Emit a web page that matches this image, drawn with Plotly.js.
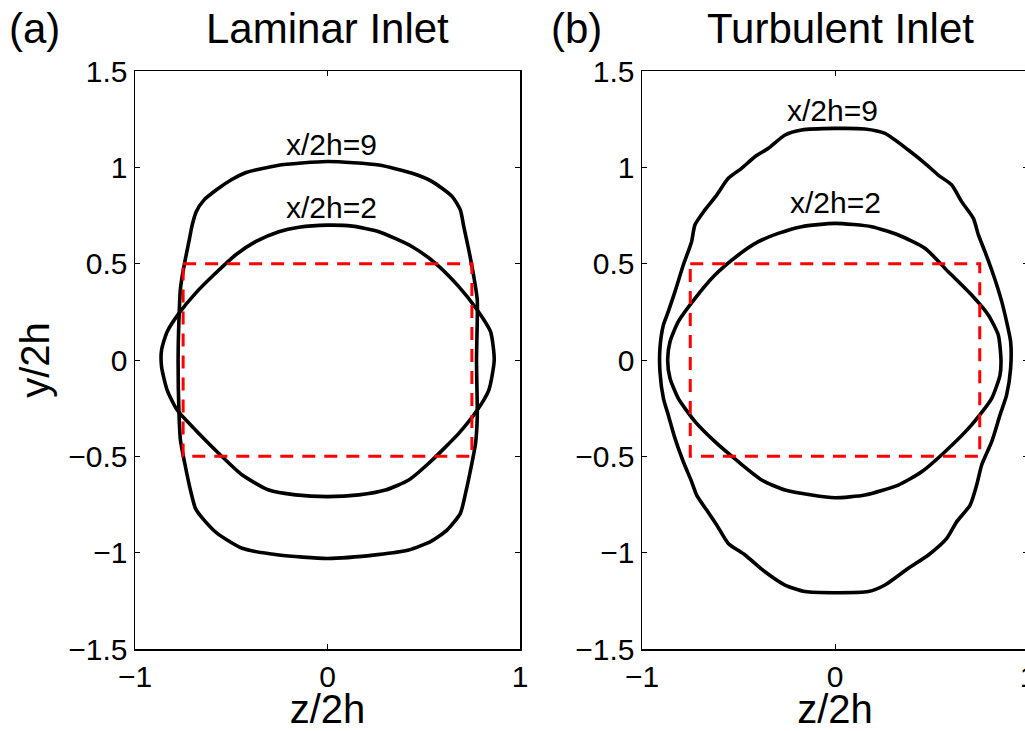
<!DOCTYPE html>
<html>
<head>
<meta charset="utf-8">
<script src="https://cdn.plot.ly/plotly-3.0.1.min.js"></script>
<style>
html, body { margin: 0; padding: 0; overflow: hidden; background: #fff; }
#chart { width: 1040px; height: 731px; }
</style>
</head>
<body>
<div id="chart"></div>
<script>
// ---- Data ----
// Laminar inlet, x/2h = 2
const lam2Z = [0, -0.149, -0.253, -0.374, -0.478, -0.582, -0.686, -0.772, -0.833, -0.862, -0.862, -0.833, -0.781, -0.686, -0.547, -0.443, -0.305, -0.166, 0, 0.163, 0.301, 0.422, 0.526, 0.682, 0.778, 0.838, 0.866, 0.847, 0.778, 0.682, 0.561, 0.44, 0.267, 0.128, 0];
const lam2Y = [0.70, 0.689, 0.666, 0.614, 0.545, 0.45, 0.346, 0.242, 0.147, 0.052, -0.035, -0.156, -0.26, -0.363, -0.502, -0.597, -0.675, -0.70, -0.709, -0.70, -0.675, -0.623, -0.536, -0.381, -0.26, -0.156, 0, 0.147, 0.26, 0.381, 0.502, 0.588, 0.666, 0.695, 0.70];
// Laminar inlet, x/2h = 9
const lam9Z = [0, -0.26, -0.374, -0.426, -0.495, -0.573, -0.642, -0.682, -0.703, -0.72, -0.745, -0.764, -0.772, -0.776, -0.772, -0.764, -0.738, -0.712, -0.686, -0.642, -0.573, -0.443, -0.253, 0, 0.26, 0.422, 0.54, 0.622, 0.69, 0.717, 0.743, 0.769, 0.778, 0.774, 0.778, 0.76, 0.734, 0.708, 0.69, 0.648, 0.544, 0.44, 0.267, 0];
const lam9Y = [1.03, 1.01, 0.986, 0.972, 0.938, 0.886, 0.83, 0.77, 0.70, 0.614, 0.49, 0.37, 0.2, 0, -0.26, -0.415, -0.554, -0.675, -0.77, -0.83, -0.90, -0.977, -1.012, -1.03, -1.01, -0.986, -0.94, -0.882, -0.796, -0.692, -0.571, -0.433, -0.294, 0, 0.311, 0.433, 0.571, 0.692, 0.779, 0.848, 0.926, 0.969, 1.012, 1.03];
// Turbulent inlet, x/2h = 2
const tur2Z = [0, -0.173, -0.294, -0.397, -0.501, -0.622, -0.725, -0.812, -0.855, -0.867, -0.855, -0.812, -0.725, -0.622, -0.501, -0.38, -0.259, -0.121, 0, 0.155, 0.328, 0.449, 0.57, 0.708, 0.812, 0.855, 0.86, 0.846, 0.794, 0.708, 0.587, 0.466, 0.328, 0.19, 0];
const tur2Y = [0.709, 0.692, 0.657, 0.614, 0.545, 0.441, 0.32, 0.199, 0.095, 0, -0.095, -0.199, -0.32, -0.424, -0.528, -0.623, -0.675, -0.701, -0.715, -0.701, -0.649, -0.58, -0.476, -0.337, -0.199, -0.078, 0, 0.13, 0.234, 0.337, 0.458, 0.58, 0.649, 0.692, 0.709];
// Turbulent inlet, x/2h = 9
const tur9Z = [0, -0.173, -0.259, -0.345, -0.415, -0.484, -0.553, -0.613, -0.674, -0.726, -0.743, -0.786, -0.829, -0.864, -0.889, -0.907, -0.907, -0.889, -0.864, -0.829, -0.786, -0.743, -0.717, -0.665, -0.613, -0.553, -0.466, -0.363, -0.259, -0.155, 0, 0.173, 0.259, 0.38, 0.484, 0.579, 0.631, 0.70, 0.734, 0.76, 0.812, 0.855, 0.889, 0.91, 0.91, 0.889, 0.864, 0.821, 0.777, 0.743, 0.717, 0.656, 0.605, 0.535, 0.466, 0.38, 0.259, 0.155, 0];
const tur9Y = [1.202, 1.194, 1.168, 1.099, 1.055, 0.995, 0.943, 0.856, 0.779, 0.701, 0.614, 0.493, 0.355, 0.251, 0.182, 0.061, -0.061, -0.199, -0.285, -0.407, -0.528, -0.631, -0.701, -0.779, -0.856, -0.952, -1.012, -1.099, -1.168, -1.202, -1.208, -1.202, -1.168, -1.081, -1.012, -0.926, -0.839, -0.753, -0.649, -0.545, -0.424, -0.285, -0.182, -0.043, 0.095, 0.199, 0.303, 0.441, 0.562, 0.649, 0.735, 0.822, 0.908, 0.96, 1.021, 1.09, 1.176, 1.199, 1.202];
// Duct cross-section (dashed rectangle)
const rectZ = [-0.75, 0.75, 0.75, -0.75, -0.75];
const rectY = [0.5, 0.5, -0.5, -0.5, 0.5];
// Ticks
const xTickVals = [-1, 0, 1];
const xTickText = ['\u22121', '0', '1'];
const yTickVals = [-1.5, -1, -0.5, 0, 0.5, 1, 1.5];
const yTickText = ['\u22121.5', '\u22121', '\u22120.5', '0', '0.5', '1', '1.5'];
// Text
const panelTitles = ['Laminar Inlet', 'Turbulent Inlet'];
const panelTags = ['(a)', '(b)'];
const curveLabels = ['x/2h=9', 'x/2h=2'];
const lamLabelPos = [[0.02, 1.12], [0.02, 0.794]];
const turLabelPos = [[-0.015, 1.297], [0.0, 0.815]];

// ---- Plot ----
const W = 1040, H = 731;
const FONT = 'Liberation Sans, Arial, Helvetica, sans-serif';
const black = '#000000';

function curve(z, y, xa, ya) {
  return {x: z, y: y, xaxis: xa, yaxis: ya, type: 'scatter', mode: 'lines',
    line: {color: black, width: 3.6, shape: 'spline', smoothing: 0.6},
    hoverinfo: 'skip', showlegend: false};
}
function rect(xa, ya) {
  return {x: rectZ, y: rectY, xaxis: xa, yaxis: ya, type: 'scatter', mode: 'lines',
    line: {color: '#ff0000', width: 3, dash: '13px,9px'}, hoverinfo: 'skip', showlegend: false};
}

const traces = [
  curve(lam9Z, lam9Y, 'x', 'y'),
  curve(lam2Z, lam2Y, 'x', 'y'),
  rect('x', 'y'),
  curve(tur9Z, tur9Y, 'x2', 'y2'),
  curve(tur2Z, tur2Y, 'x2', 'y2'),
  rect('x2', 'y2')
];

function xAxis(domain, anchor) {
  return {domain: domain, anchor: anchor, range: [-1, 1], tickmode: 'array',
    tickvals: xTickVals, ticktext: xTickText, ticks: 'inside', ticklen: 5, tickwidth: 1,
    tickcolor: black, showline: true, linecolor: black, linewidth: 1.5, mirror: 'ticks',
    showgrid: false, zeroline: false, automargin: false,
    tickfont: {family: FONT, size: 30, color: black},
    title: {text: 'z/2h', font: {family: FONT, size: 40, color: black}, standoff: 8}};
}
function yAxis(domain, anchor, withTitle) {
  const a = {domain: domain, anchor: anchor, range: [-1.5, 1.5], tickmode: 'array',
    tickvals: yTickVals, ticktext: yTickText, ticks: 'inside', ticklen: 5, tickwidth: 1,
    tickcolor: black, showline: true, linecolor: black, linewidth: 1.5, mirror: 'ticks',
    showgrid: false, zeroline: false, automargin: false,
    tickfont: {family: FONT, size: 30, color: black}};
  if (withTitle) a.title = {text: 'y/2h', font: {family: FONT, size: 40, color: black}, standoff: 6};
  return a;
}

const yDom = [1 - 649 / H, 1 - 71 / H];
const annotations = [];
const titleX = [327 / W, 840 / W];
const tagX = [34 / W, 576 / W];
for (let i = 0; i < 2; i++) {
  annotations.push({text: panelTitles[i], xref: 'paper', yref: 'paper', x: titleX[i], y: 1 - 29 / H,
    xanchor: 'center', yanchor: 'middle', showarrow: false, font: {family: FONT, size: 42, color: black}});
  annotations.push({text: panelTags[i], xref: 'paper', yref: 'paper', x: tagX[i], y: 1 - 29 / H,
    xanchor: 'center', yanchor: 'middle', showarrow: false, font: {family: FONT, size: 42, color: black}});
}
for (let i = 0; i < 2; i++) {
  annotations.push({text: curveLabels[i], xref: 'x', yref: 'y', x: lamLabelPos[i][0], y: lamLabelPos[i][1],
    xanchor: 'center', yanchor: 'middle', showarrow: false, font: {family: FONT, size: 30, color: black}});
  annotations.push({text: curveLabels[i], xref: 'x2', yref: 'y2', x: turLabelPos[i][0], y: turLabelPos[i][1],
    xanchor: 'center', yanchor: 'middle', showarrow: false, font: {family: FONT, size: 30, color: black}});
}

const layout = {
  width: W, height: H,
  margin: {l: 0, r: 0, t: 0, b: 0, pad: 0},
  paper_bgcolor: '#ffffff', plot_bgcolor: '#ffffff',
  showlegend: false,
  font: {family: FONT, color: black},
  xaxis: xAxis([135 / W, 520 / W], 'y'),
  yaxis: yAxis(yDom, 'x', true),
  xaxis2: xAxis([642 / W, 1028 / W], 'y2'),
  yaxis2: yAxis(yDom, 'x2', false),
  annotations: annotations
};

Plotly.newPlot('chart', traces, layout, {staticPlot: true, displayModeBar: false});
</script>
</body>
</html>
